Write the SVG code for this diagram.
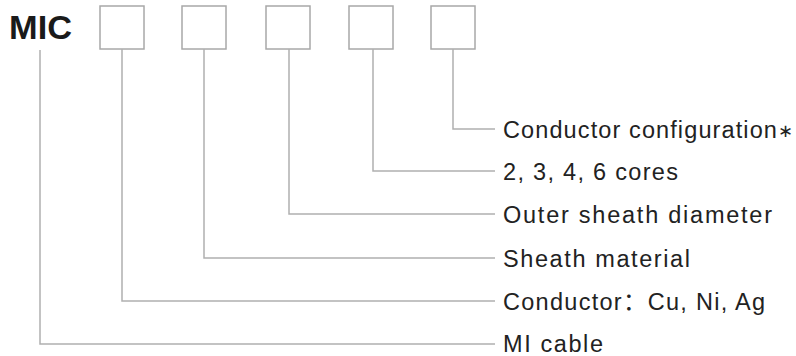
<svg xmlns="http://www.w3.org/2000/svg" width="796" height="356" viewBox="0 0 796 356">
<style>
.box{fill:#fff;stroke:#a8a8a8;stroke-width:1.5}
.ln{fill:none;stroke:#b0b0b0;stroke-width:1.5}
.lbl{font-family:"Liberation Sans",Arial,"Noto Sans CJK SC",sans-serif;font-size:23.5px;fill:#222}
.title{font-family:"Liberation Sans",Arial,sans-serif;font-size:33px;font-weight:bold;fill:#1a1a1a}
</style>
<rect width="796" height="356" fill="#fff"/>
<g id="mic"><text class="title" x="9" y="39" textLength="63" lengthAdjust="spacingAndGlyphs">MIC</text></g>
<g id="box1"><rect class="box" x="100" y="6" width="44" height="43"/></g>
<g id="box2"><rect class="box" x="182" y="6" width="44" height="43"/></g>
<g id="box3"><rect class="box" x="266" y="6" width="44" height="43"/></g>
<g id="box4"><rect class="box" x="349" y="6" width="44" height="43"/></g>
<g id="box5"><rect class="box" x="431" y="6" width="44" height="43"/></g>
<g id="connectors">
<polyline class="ln" points="453,49 453,129 495,129"/>
<polyline class="ln" points="373,49 373,171 495,171"/>
<polyline class="ln" points="289,49 289,214 495,214"/>
<polyline class="ln" points="204,49 204,258 495,258"/>
<polyline class="ln" points="122,49 122,301 495,301"/>
<polyline class="ln" points="40,50 40,344 495,344"/>
</g>
<g id="labels">
<text class="lbl" x="503" y="137.5" textLength="290" lengthAdjust="spacing">Conductor configuration<tspan font-size="18" dy="-1">∗</tspan></text>
<text class="lbl" x="503" y="179.5" textLength="175" lengthAdjust="spacing">2, 3, 4, 6 cores</text>
<text class="lbl" x="503" y="222.5" textLength="269" lengthAdjust="spacing">Outer sheath diameter</text>
<text class="lbl" x="503" y="266.5" textLength="187" lengthAdjust="spacing">Sheath material</text>
<text class="lbl" x="503" y="309.5" textLength="262" lengthAdjust="spacing">Conductor：Cu, Ni, Ag</text>
<text class="lbl" x="503" y="352" textLength="100" lengthAdjust="spacing">MI cable</text>
</g>
</svg>
